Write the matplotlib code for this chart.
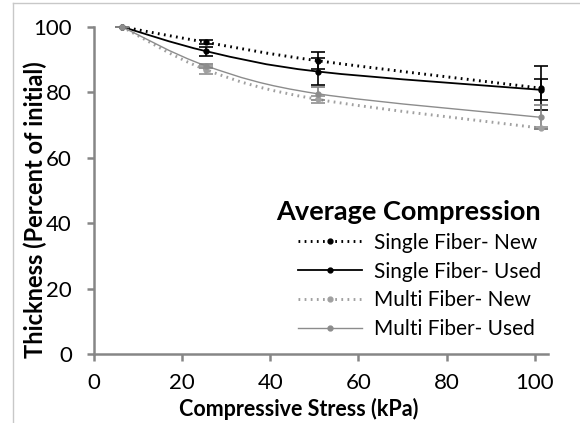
import matplotlib
matplotlib.use("Agg")
import matplotlib.pyplot as plt
from matplotlib.path import Path
from matplotlib.patches import PathPatch
from matplotlib.lines import Line2D
import numpy as np

# ---- data ----
stress = [6.3, 25.5, 50.8, 101.5]
single_new = [100, 95.2, 89.6, 81.2]
single_new_err = [0, 0.6, 2.6, 6.8]
single_used = [100, 92.5, 86.3, 80.7]
single_used_err = [0, 1.3, 4.0, 3.2]
multi_new = [100, 86.8, 77.8, 69.0]
multi_new_err = [0, 1.2, 1.0, 0.4]
multi_used = [100, 88.0, 79.5, 72.3]
multi_used_err = [0, 0.6, 2.0, 3.7]
labels = ["Single Fiber- New", "Single Fiber- Used", "Multi Fiber- New", "Multi Fiber- Used"]
xticks = [0, 20, 40, 60, 80, 100]
yticks = [0, 20, 40, 60, 80, 100]

FONT = "Lato"
plt.rcParams['font.family'] = [FONT, 'DejaVu Sans']

W, H = 580, 423
fig = plt.figure(figsize=(5.8, 4.23), dpi=100)
ax = fig.add_axes([94/W, 1-354/H, (548-94)/W, (354-26.7)/H])
ax.set_xlim(0, 103)
ax.set_ylim(0, 100)

AX_COL = "#868686"
dot = (0, (0.6, 1.5))

def smooth_path(xs, ys):
    pts = list(zip(xs, ys))
    verts = [pts[0]]
    codes = [Path.MOVETO]
    n = len(pts)
    for i in range(n - 1):
        p0 = np.array(pts[i - 1] if i > 0 else pts[i])
        p1 = np.array(pts[i])
        p2 = np.array(pts[i + 1])
        p3 = np.array(pts[i + 2] if i + 2 < n else pts[i + 1])
        c1 = p1 + (p2 - p0) / 6.0
        c2 = p2 - (p3 - p1) / 6.0
        verts += [tuple(c1), tuple(c2), tuple(p2)]
        codes += [Path.CURVE4] * 3
    return Path(verts, codes)

series = [
    (single_new, single_new_err, "black", dot, 2.1, "#000000"),
    (single_used, single_used_err, "black", "-", 1.3, "#000000"),
    (multi_new, multi_new_err, "#a0a0a0", dot, 2.1, "#909090"),
    (multi_used, multi_used_err, "#8c8c8c", "-", 1.0, "#808080"),
]

handles = []
for (ys, err, col, ls, lw, ecol), lab in zip(series, labels):
    patch = PathPatch(smooth_path(stress, ys), fill=False, edgecolor=col,
                      linestyle=ls, linewidth=lw, transform=ax.transData,
                      clip_on=False, capstyle='butt')
    ax.add_patch(patch)
    ax.errorbar(stress, ys, yerr=err, fmt='none', ecolor=ecol, elinewidth=1.2,
                capsize=5, capthick=1.2, clip_on=False)
    ax.plot(stress, ys, linestyle='none', marker='o', markersize=3.5,
            color=col, clip_on=False, zorder=4)
    handles.append(Line2D([], [], color=col, linestyle=ls, linewidth=lw,
                          marker='o', markersize=3.5))

for s in ['top', 'right']:
    ax.spines[s].set_visible(False)
for s in ['left', 'bottom']:
    ax.spines[s].set_color(AX_COL)
    ax.spines[s].set_linewidth(1.8)

ax.set_xticks(xticks)
ax.set_yticks(yticks)
ax.tick_params(axis='both', direction='out', length=5, width=1.8, color=AX_COL,
               labelsize=16, labelcolor='black')
ax.tick_params(axis='x', pad=9)
ax.tick_params(axis='y', pad=11)

fig.text(299/W, 1-409/H, "Compressive Stress (kPa)", fontsize=15.5,
         fontweight='bold', ha='center', va='center')
fig.text(35/W, 1-210/H, "Thickness (Percent of initial)", fontsize=17,
         fontweight='bold', ha='center', va='center', rotation=90)

leg = ax.legend(handles, labels, title="Average Compression", loc='lower right',
                bbox_to_anchor=(541/W, 1-339/H), bbox_transform=fig.transFigure,
                frameon=False, fontsize=15, handlelength=3.1, handletextpad=0.55,
                labelspacing=0.42, borderpad=0, borderaxespad=0,
                alignment='right')
leg.get_title().set_fontsize(19.5)
leg.get_title().set_fontweight('bold')

# outer frame lines (sheet border)
fig.add_artist(Line2D([13/W, 1], [1-3/H, 1-3/H], color="#c8c8c8", lw=1,
                      transform=fig.transFigure))
fig.add_artist(Line2D([13/W, 13/W], [0, 1-3/H], color="#c8c8c8", lw=1,
                      transform=fig.transFigure))

fig.savefig("out.png", dpi=100)
